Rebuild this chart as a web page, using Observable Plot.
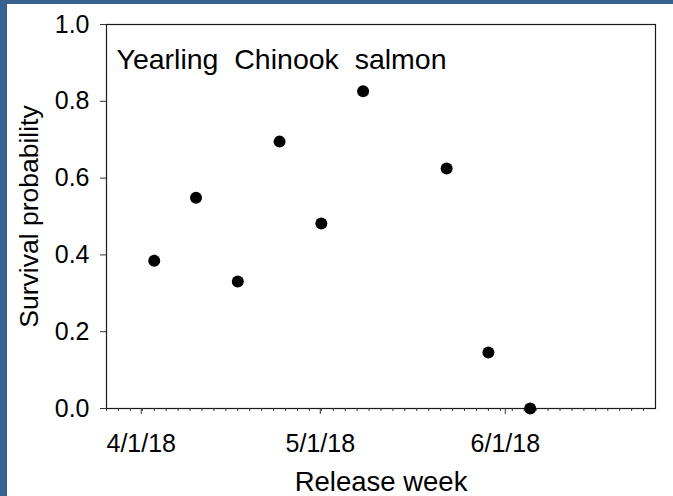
<!DOCTYPE html>
<html><head><meta charset="utf-8">
<script src="https://cdn.jsdelivr.net/npm/d3@7"></script>
<script src="https://cdn.jsdelivr.net/npm/@observablehq/plot@0.6"></script>
<style>
body{margin:0;background:#fff;}
#wrap{position:relative;width:673px;height:496px;overflow:hidden;background:#fff;}
#wrap svg{position:absolute;left:0;top:0;}
.bl{position:absolute;left:0;top:0;width:7px;height:496px;background:#37628f;}
.bt{position:absolute;left:0;top:0;width:673px;height:4px;background:#37628f;}
</style></head><body><div id="wrap"><div class="bl"></div><div class="bt"></div></div>
<script>
// Data
const releaseWeeks = ["2018-04-02","2018-04-09","2018-04-16","2018-04-23","2018-04-30","2018-05-07","2018-05-21","2018-05-28","2018-06-04"];
const survival = [0.385, 0.549, 0.331, 0.695, 0.482, 0.826, 0.625, 0.146, 0.0];
const yTicks = [0, 0.2, 0.4, 0.6, 0.8, 1.0];
const xTickDates = ["2018-04-01","2018-05-01","2018-06-01"];
const xDomainDates = ["2018-03-25","2018-06-25"];
const titleText = "Yearling  Chinook  salmon";
const xLabel = "Release week";
const yLabel = "Survival probability";

const parse = d3.utcParse("%Y-%m-%d");
const data = releaseWeeks.map((d, i) => ({date: parse(d), survival: survival[i]}));
const xDomain = xDomainDates.map(parse);
const majorTicks = xTickDates.map(parse);
const minorTicks = d3.utcDay.range(xDomain[0], xDomain[1], 2);

const font = "'Liberation Sans', Arial, sans-serif";

const chart = Plot.plot({
  width: 673,
  height: 496,
  marginLeft: 106,
  marginTop: 24,
  marginRight: 18,
  marginBottom: 88,
  style: {fontFamily: font, background: "transparent", color: "#000"},
  x: {type: "utc", domain: xDomain},
  y: {domain: [0, 1]},
  marks: [
    Plot.frame({stroke: "#1a1a1a", strokeWidth: 1.2}),
    Plot.axisX(minorTicks, {tickSize: 3, tickFormat: () => "", stroke: "#333", label: null}),
    Plot.axisX(majorTicks, {tickSize: 6, tickPadding: 20, dx: -7, tickFormat: d3.utcFormat("%-m/%-d/%y"), fontSize: 25, fill: "#000", stroke: "#333", label: null}),
    Plot.axisY(yTicks, {tickSize: 6, tickPadding: 11, tickFormat: d3.format(".1f"), fontSize: 25, fill: "#000", stroke: "#333", label: null}),
    Plot.text([titleText], {frameAnchor: "top-left", dx: 10, dy: 24, fontSize: 28.5, textAnchor: "start", fill: "#000"}),
    Plot.text([xLabel], {frameAnchor: "bottom", dx: 0, dy: 82, fontSize: 27.5, fill: "#000"}),
    Plot.text([yLabel], {frameAnchor: "left", rotate: -90, textAnchor: "middle", lineAnchor: "middle", dx: -77, dy: 0, fontSize: 26.5, fill: "#000"}),
    Plot.dot(data, {x: "date", y: "survival", r: 6, fill: "#000", stroke: "none"})
  ]
});
document.getElementById("wrap").prepend(chart);
</script>
</body></html>
